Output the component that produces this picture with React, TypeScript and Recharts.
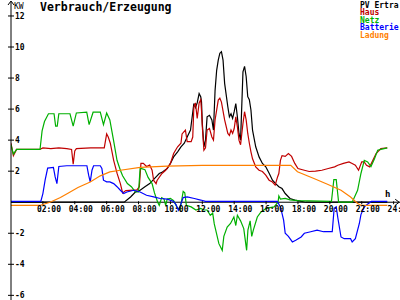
import React from "react";
import { LineChart, Line, XAxis, YAxis, ReferenceLine, ReferenceDot } from "recharts";

type Pt = [number, number];

// hours of day, kW
const hourTicks = [2, 4, 6, 8, 10, 12, 14, 16, 18, 20, 22, 24];
const hourLabels = ["02:00", "04:00", "06:00", "08:00", "10:00", "12:00", "14:00", "16:00", "18:00", "20:00", "22:00", "24:00"];
const kwTicks = [-6, -4, -2, 2, 4, 6, 8, 10, 12];

const pvErtrag: Pt[] = [
  [0, 0], [7.1, 0], [7.5, 0.34], [7.8, 0.66], [8.1, 0.77], [8.4, 1.0], [8.7, 1.2], [9.1, 1.63], [9.3, 1.85],
  [9.5, 1.95], [9.8, 2.17], [10.0, 2.5], [10.2, 2.92], [10.45, 3.25], [10.66, 3.57], [10.87, 3.8], [11.05, 4.2],
  [11.26, 4.65], [11.47, 6.36], [11.57, 6.1], [11.68, 6.4], [11.8, 7.0], [11.9, 6.8], [11.95, 6.47], [12.0, 5.07],
  [12.1, 3.57], [12.2, 4.0], [12.3, 5.5], [12.45, 5.6], [12.6, 5.3], [12.7, 4.65], [12.8, 7.2], [12.9, 8.5],
  [13.0, 9.16], [13.1, 9.6], [13.2, 9.7], [13.3, 9.16], [13.4, 7.66], [13.6, 6.15], [13.7, 5.5], [13.8, 5.7],
  [13.9, 5.4], [14.0, 5.83], [14.1, 6.36], [14.2, 5.5], [14.3, 4.43], [14.4, 4.0], [14.55, 8.4], [14.65, 8.75],
  [14.75, 8.1], [14.85, 6.8], [14.95, 6.6], [15.05, 5.94], [15.15, 4.65], [15.35, 3.57], [15.56, 2.92],
  [15.77, 2.5], [15.98, 2.28], [16.2, 1.85], [16.4, 1.42], [16.6, 1.2], [16.8, 1.0], [17.0, 0.88], [17.2, 0.56],
  [17.5, 0.24], [17.8, 0.14], [18.2, 0.05], [18.5, 0], [23.6, 0],
];

const haus: Pt[] = [
  [0, 3.8], [0.15, 3.0], [0.35, 3.4], [1.8, 3.4], [2.0, 3.5], [2.5, 3.45], [3.0, 3.5], [3.5, 3.45], [3.8, 3.4],
  [3.9, 2.45], [4.0, 3.3], [4.1, 3.45], [5.0, 3.5], [5.85, 3.5], [6.0, 4.4], [6.1, 4.2], [6.23, 3.8], [6.44, 2.7],
  [6.65, 1.87], [6.86, 1.2], [7.0, 0.6], [7.2, 0.75], [7.9, 0.8], [8.05, 1.0], [8.15, 2.5], [8.3, 2.5], [8.5, 2.3],
  [8.7, 2.4], [8.85, 2.06], [8.95, 1.4], [9.1, 1.2], [9.16, 1.4], [9.47, 1.85], [9.7, 2.06], [10.0, 2.5],
  [10.2, 3.14], [10.45, 3.57], [10.66, 3.8], [10.73, 4.4], [10.94, 4.65], [11.05, 3.9], [11.3, 3.9], [11.4, 4.2],
  [11.47, 6.15], [11.57, 6.4], [11.68, 5.4], [11.8, 6.4], [11.9, 6.6], [11.95, 5.9], [12.0, 4.86], [12.1, 3.35],
  [12.2, 3.5], [12.3, 4.65], [12.45, 4.75], [12.6, 4.2], [12.7, 4.0], [12.8, 5.3], [13.0, 6.58], [13.1, 6.7],
  [13.2, 6.45], [13.4, 5.3], [13.6, 4.43], [13.7, 4.3], [13.8, 4.65], [13.9, 4.43], [14.0, 4.75], [14.1, 5.5],
  [14.2, 4.86], [14.3, 4.0], [14.4, 3.7], [14.55, 5.07], [14.65, 5.83], [14.75, 5.3], [14.85, 4.43], [14.95, 3.8],
  [15.05, 3.25], [15.15, 2.8], [15.35, 2.28], [15.56, 2.06], [15.77, 1.98], [15.98, 1.74], [16.19, 1.42],
  [16.4, 1.3], [16.57, 1.1], [16.72, 1.63], [16.8, 1.85], [16.9, 2.7], [17.0, 3.0], [17.2, 2.95], [17.4, 3.14],
  [17.6, 2.95], [17.8, 2.5], [18.0, 2.17], [18.4, 2.06], [18.7, 1.98], [19.1, 2.0], [19.5, 2.06], [19.9, 2.17],
  [20.3, 2.28], [20.5, 2.38], [20.85, 2.5], [21.2, 2.6], [21.4, 2.5], [21.6, 2.38], [21.8, 2.06], [22.0, 2.6],
  [22.15, 2.6], [22.3, 2.38], [22.5, 2.28], [22.9, 3.14], [23.2, 3.46], [23.6, 3.5],
];

const netz: Pt[] = [
  [0, 3.7], [0.15, 3.1], [0.35, 3.4], [1.82, 3.4], [1.95, 4.6], [2.1, 5.2], [2.35, 5.7], [2.7, 5.7], [2.8, 4.9],
  [2.9, 4.9], [3.0, 5.7], [3.7, 5.7], [3.9, 4.9], [4.1, 5.75], [4.75, 5.8], [4.9, 5.0], [5.15, 5.8], [5.6, 5.8],
  [5.8, 5.0], [6.0, 5.75], [6.2, 5.3], [6.43, 4.0], [6.65, 2.7], [6.86, 2.06], [7.0, 1.7], [7.3, 1.2], [7.55, 1.0],
  [7.8, 0.66], [8.0, 0.66], [8.1, 2.2], [8.4, 2.1], [8.6, 1.6], [8.85, 1.2], [9.0, 0.6], [9.2, 0], [9.3, -0.2],
  [9.45, 0.3], [9.6, 0.2], [9.7, -0.2], [9.8, 0.2], [10.0, 0.25], [10.2, 0.1], [10.4, -0.3], [10.6, -0.5],
  [10.8, 0.7], [10.9, 0.6], [11.0, -0.2], [11.3, -0.3], [11.6, -0.5], [11.9, -0.4], [12.1, -0.5], [12.3, -0.5],
  [12.5, -0.85], [12.65, -0.7], [12.75, -1.4], [13.04, -2.67], [13.25, -3.1], [13.35, -2.2], [13.56, -1.6],
  [13.77, -1.37], [13.98, -0.95], [14.1, -1.5], [14.2, -0.84], [14.4, -1.2], [14.6, -1.7], [14.78, -3.1],
  [14.86, -1.8], [15.0, -1.2], [15.1, -2.2], [15.2, -1.8], [15.45, -0.95], [15.66, -0.65], [16.0, -0.4],
  [16.5, -0.3], [16.75, 0.0], [16.8, 0.4], [16.9, 0.2], [17.2, 0.25], [17.5, 0.15], [18.0, 0.1], [20.1, 0.05],
  [20.25, 1.45], [20.4, 1.45], [20.55, 0], [21.4, 0], [21.74, 0.77], [21.95, 1.85], [22.16, 2.7], [22.37, 2.6],
  [22.58, 2.3], [22.8, 2.8], [23.0, 3.35], [23.2, 3.4], [23.6, 3.5],
];

const batterie: Pt[] = [
  [0, 0.05], [1.87, 0.05], [2.0, 0.56], [2.14, 1.42], [2.3, 2.2], [2.66, 2.25], [2.77, 1.63], [2.88, 1.2],
  [3.0, 2.3], [3.5, 2.35], [4.76, 2.35], [4.87, 1.74], [4.97, 1.31], [5.08, 2.06], [5.18, 2.35], [5.6, 2.35],
  [5.7, 2.17], [5.8, 1.42], [6.0, 1.31], [6.2, 1.31], [6.44, 1.2], [6.65, 1.0], [6.86, 0.77], [7.07, 0.56],
  [7.27, 0.66], [7.7, 0.77], [8.1, 0.66], [8.5, 0.45], [8.95, 0.34], [9.36, 0.24], [9.8, 0.2], [10.2, 0.05],
  [10.35, -0.15], [10.5, -0.52], [10.6, -0.27], [10.8, 0.3], [11.05, 0.34], [11.5, 0.24], [11.9, 0.14],
  [12.2, 0.05], [16.7, 0.05], [16.9, -0.3], [17.1, -1.16], [17.2, -2.0], [17.4, -2.2], [17.65, -2.56],
  [17.86, -2.45], [18.2, -2.24], [18.4, -2.0], [18.8, -1.9], [19.2, -1.8], [19.6, -1.9], [20.15, -1.9],
  [20.27, -0.4], [20.4, -0.3], [20.5, -1.0], [20.7, -2.24], [20.9, -2.35], [21.3, -2.35], [21.4, -2.56],
  [21.6, -2.35], [21.85, -1.37], [21.95, -0.8], [22.16, -0.3], [22.4, -0.1], [22.6, 0.05], [23.6, 0.05],
];

const ladung: Pt[] = [
  [0, -0.2], [1.85, -0.2], [2.0, -0.15], [2.45, 0], [3.1, 0.3], [3.6, 0.6], [4.2, 0.95], [4.97, 1.3], [5.6, 1.7],
  [6.2, 1.95], [6.86, 2.06], [8.1, 2.25], [9.8, 2.33], [12.0, 2.37], [17.55, 2.37], [17.97, 1.96], [19.0, 1.53],
  [19.85, 1.16], [20.7, 0.77], [21.3, 0.34], [21.74, -0.08], [21.95, -0.2], [23.6, -0.2],
];

const series = [
  { name: "PV Ertra", color: "#000000", data: pvErtrag },
  { name: "Haus", color: "#c00000", data: haus },
  { name: "Netz", color: "#00b000", data: netz },
  { name: "Batterie", color: "#0000ff", data: batterie },
  { name: "Ladung", color: "#ff8000", data: ladung },
];

const font = "'DejaVu Sans Mono', monospace";

const toRows = (pts: Pt[]) => pts.map(([h, kw]) => ({ h, kw }));

function KwTick(props: any) {
  const { x, y, payload } = props;
  return (
    <g>
      <line x1={x - 3} x2={x + 3} y1={y} y2={y} stroke="#000" />
      <text x={x + 4} y={y + 3} fontFamily={font} fontSize={8} fontWeight="bold" fill="#000">
        {payload.value}
      </text>
    </g>
  );
}

export default function App() {
  return (
    <div style={{ position: "absolute", left: 0, top: 0, width: 400, height: 300, background: "#fff" }}>
      <LineChart width={400} height={300} margin={{ top: 2, right: 0, bottom: 0, left: 0 }}>
        <XAxis type="number" dataKey="h" domain={[0, 24.4]} hide allowDataOverflow />
        <YAxis
          type="number"
          domain={[-6.3, 12.9]}
          ticks={kwTicks}
          interval={0}
          width={11}
          tickSize={0}
          tickMargin={0}
          axisLine={{ stroke: "#000" }}
          tickLine={false}
          tick={<KwTick />}
          allowDataOverflow
        />
        <ReferenceLine y={0} stroke="#000" />
        {hourTicks.map((h, i) => (
          <ReferenceDot
            key={h}
            x={h}
            y={0}
            r={0}
            ifOverflow="visible"
            shape={(p: any) => (
              <g>
                <line x1={p.cx} x2={p.cx} y1={p.cy - 1} y2={p.cy + 2} stroke="#000" />
                <text x={p.cx - 6} y={p.cy + 10} fontFamily={font} fontSize={8} fontWeight="bold" fill="#000">
                  {hourLabels[i]}
                </text>
              </g>
            )}
          />
        ))}
        <ReferenceDot
          x={24.35}
          y={0}
          r={0}
          ifOverflow="visible"
          shape={(p: any) => (
            <path d={`M${p.cx - 4},${p.cy - 3}L${p.cx},${p.cy}L${p.cx - 4},${p.cy + 3}`} fill="none" stroke="#000" />
          )}
        />
        <ReferenceDot
          x={0}
          y={12.9}
          r={0}
          ifOverflow="visible"
          shape={(p: any) => (
            <path d={`M${p.cx - 3},${p.cy + 3}L${p.cx},${p.cy - 1}L${p.cx + 3},${p.cy + 3}`} fill="none" stroke="#000" />
          )}
        />
        {series.map((s) => (
          <Line
            key={s.name}
            data={toRows(s.data)}
            dataKey="kw"
            type="linear"
            stroke={s.color}
            strokeWidth={1.2}
            dot={false}
            isAnimationActive={false}
          />
        ))}
      </LineChart>
      <svg width={400} height={300} style={{ position: "absolute", left: 0, top: 0, pointerEvents: "none" }}>
        <text x={40} y={11} fontFamily={font} fontSize={11.5} fontWeight="bold" fill="#000">
          Verbrauch/Erzeugung
        </text>
        <text x={14} y={8.5} fontFamily={font} fontSize={8} fill="#000">KW</text>
        <text x={385} y={197} fontFamily={font} fontSize={9} fontWeight="bold" fill="#000">h</text>
        {series.map((s, i) => (
          <text key={s.name} x={360} y={7.5 + i * 7.5} fontFamily={font} fontSize={8} fontWeight="bold" fill={s.color}>
            {s.name}
          </text>
        ))}
      </svg>
    </div>
  );
}
